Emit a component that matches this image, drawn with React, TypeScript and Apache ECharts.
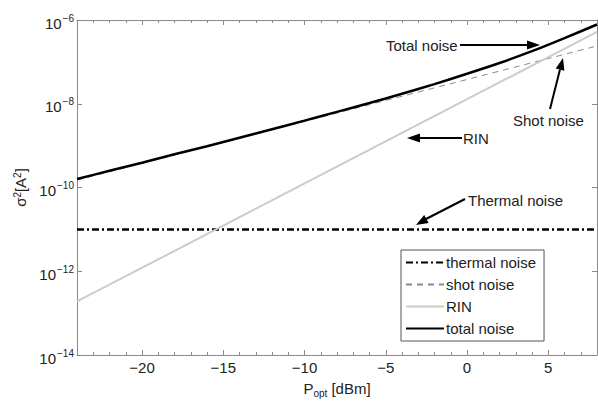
import React, { useEffect, useRef } from "react";
import * as echarts from "echarts";

// Optical power axis (dBm) and noise variances (A^2)
const powerDbm = [-24, -22, -20, -18, -16, -14, -12, -10, -8, -6, -4, -2, 0, 2, 4, 6, 8];
const totalNoise = [
  1.6e-10, 2.5e-10, 3.9e-10, 6.2e-10, 9.7e-10, 1.54e-9, 2.46e-9, 3.95e-9, 6.4e-9,
  1.04e-8, 1.73e-8, 2.95e-8, 5.2e-8, 9.4e-8, 1.8e-7, 3.7e-7, 7.8e-7,
];
const endPowers = [-24, 8];
const thermalNoise = [1e-11, 1e-11];
const shotNoise = [1.5e-10, 2.4e-7];
const rinNoise = [1.9e-13, 5.2e-7];

const xMajorTicks = [-20, -15, -10, -5, 0, 5];
const xMinorTicks = [-24, -23, -22, -21, -19, -18, -17, -16, -14, -13, -12, -11, -9, -8, -7, -6, -4, -3, -2, -1, 1, 2, 3, 4, 6, 7, 8];
const yTicks = [1e-14, 1e-12, 1e-10, 1e-8, 1e-6];

const seriesNames = ["thermal noise", "shot noise", "RIN", "total noise"];

const FONT = "Liberation Sans, Arial, Helvetica, sans-serif";
const TXT = "#222";
const FRAME = "#8a8a8a";

export default function App() {
  const ref = useRef<HTMLDivElement>(null);
  useEffect(() => {
    if (!ref.current) return;
    const chart = echarts.init(ref.current, null, { renderer: "svg" });
    const pair = (xs: number[], ys: number[]) => xs.map((x, i) => [x, ys[i]]);
    const xBase = {
      type: "value",
      min: -24,
      max: 8,
      splitLine: { show: false },
    };
    const yFmt = (v: number) => {
      const e = Math.round(Math.log10(v));
      return `{b|10}{s|${e < 0 ? "\u2212" + Math.abs(e) : e}}`;
    };
    const yRich = {
      b: { fontSize: 15, fontFamily: FONT, color: TXT, padding: [6, 0, 0, 0] },
      s: { fontSize: 10, fontFamily: FONT, color: TXT, padding: [0, 0, 4, 1] },
    };
    const yBase = {
      type: "log",
      logBase: 10,
      min: 1e-14,
      max: 1e-6,
      interval: 2,
      splitLine: { show: false },
      minorTick: { show: false },
    };
    const option: any = {
      animation: false,
      backgroundColor: "#fff",
      textStyle: { fontFamily: FONT },
      grid: { left: 77, right: 1, top: 20, bottom: 42, containLabel: false },
      xAxis: [
        {
          ...xBase,
          position: "bottom",
          name: "P{sub|opt} [dBm]",
          nameLocation: "middle",
          nameGap: 24,
          nameTextStyle: {
            fontSize: 15,
            color: TXT,
            fontFamily: FONT,
            rich: { sub: { fontSize: 10, color: TXT, fontFamily: FONT, padding: [9, 0, 0, 0] } },
          },
          axisLine: { show: true, onZero: false, lineStyle: { color: FRAME, width: 1 } },
          axisTick: { show: true, inside: true, length: 5, customValues: xMajorTicks, lineStyle: { color: FRAME } },
          axisLabel: { show: true, customValues: xMajorTicks, margin: 5, fontSize: 15, color: TXT, fontFamily: FONT, formatter: (v: number) => (v < 0 ? "\u2212" + Math.abs(v) : String(v)) },
        },
        {
          ...xBase,
          position: "bottom",
          axisLine: { show: false, onZero: false },
          axisTick: { show: true, inside: true, length: 3, customValues: xMinorTicks, lineStyle: { color: FRAME } },
          axisLabel: { show: false },
        },
        {
          ...xBase,
          position: "top",
          axisLine: { show: true, onZero: false, lineStyle: { color: FRAME, width: 1 } },
          axisTick: { show: true, inside: true, length: 5, customValues: xMajorTicks, lineStyle: { color: FRAME } },
          axisLabel: { show: false },
        },
        {
          ...xBase,
          position: "top",
          axisLine: { show: false, onZero: false },
          axisTick: { show: true, inside: true, length: 3, customValues: xMinorTicks, lineStyle: { color: FRAME } },
          axisLabel: { show: false },
        },
      ],
      yAxis: [
        {
          ...yBase,
          position: "left",
          name: "\u03c3{s|2}[A{s|2}]",
          nameLocation: "middle",
          nameRotate: 90,
          nameGap: 38,
          nameTextStyle: {
            fontSize: 15,
            color: TXT,
            fontFamily: FONT,
            rich: {
              s: { fontSize: 10, color: TXT, fontFamily: FONT, padding: [0, 0, 7, 0] },
            },
          },
          axisLine: { show: true, onZero: false, lineStyle: { color: FRAME, width: 1 } },
          axisTick: { show: true, inside: true, length: 5, customValues: yTicks, lineStyle: { color: FRAME } },
          axisLabel: { show: true, margin: 3, customValues: yTicks, formatter: yFmt, rich: yRich },
        },
        {
          ...yBase,
          position: "right",
          axisLine: { show: true, onZero: false, lineStyle: { color: FRAME, width: 1 } },
          axisTick: { show: true, inside: true, length: 5, customValues: yTicks, lineStyle: { color: FRAME } },
          axisLabel: { show: false },
        },
      ],
      legend: {
        data: seriesNames,
        orient: "vertical",
        left: 401,
        top: 250,
        padding: [5, 8, 5, 4],
        itemGap: 7,
        itemWidth: 38,
        itemHeight: 14,
        backgroundColor: "#fff",
        borderColor: "#555",
        borderWidth: 1,
        borderRadius: 0,
        itemStyle: { opacity: 0 },
        textStyle: { fontSize: 15, color: TXT, fontFamily: FONT, padding: [0, 0, 0, -3] },
      },
      series: [
        {
          name: seriesNames[0],
          type: "line",
          data: pair(endPowers, thermalNoise),
          symbol: "none",
          lineStyle: { color: "#000", width: 2.5, type: [7, 3, 2, 3] },
          itemStyle: { color: "#000" },
        },
        {
          name: seriesNames[1],
          type: "line",
          data: pair(endPowers, shotNoise),
          symbol: "none",
          lineStyle: { color: "#8a8a8a", width: 1, type: [6, 5] },
          itemStyle: { color: "#8a8a8a" },
        },
        {
          name: seriesNames[2],
          type: "line",
          data: pair(endPowers, rinNoise),
          symbol: "none",
          lineStyle: { color: "#cdccc5", width: 2 },
          itemStyle: { color: "#cdccc5" },
        },
        {
          name: seriesNames[3],
          type: "line",
          data: pair(powerDbm, totalNoise),
          symbol: "none",
          smooth: 0.3,
          lineStyle: { color: "#000", width: 2.5 },
          itemStyle: { color: "#000" },
        },
      ],
      graphic: [
        { type: "text", x: 386, y: 45, style: { text: "Total noise", fontSize: 15, fontFamily: FONT, fill: TXT, verticalAlign: "middle" } },
        { type: "line", shape: { x1: 460, y1: 45, x2: 530, y2: 45 }, style: { stroke: "#000", lineWidth: 2 } },
        { type: "polygon", shape: { points: [[540, 45], [527, 40.5], [527, 49.5]] }, style: { fill: "#000" } },

        { type: "text", x: 513, y: 120, style: { text: "Shot noise", fontSize: 15, fontFamily: FONT, fill: TXT, verticalAlign: "middle" } },
        { type: "line", shape: { x1: 550, y1: 109, x2: 560, y2: 69.6 }, style: { stroke: "#000", lineWidth: 2 } },
        { type: "polygon", shape: { points: [[563, 58], [564.4, 70.7], [555.7, 68.5]] }, style: { fill: "#000" } },

        { type: "text", x: 463, y: 138, style: { text: "RIN", fontSize: 15, fontFamily: FONT, fill: TXT, verticalAlign: "middle" } },
        { type: "line", shape: { x1: 462, y1: 138, x2: 417, y2: 138 }, style: { stroke: "#000", lineWidth: 2 } },
        { type: "polygon", shape: { points: [[407, 138], [420, 133.5], [420, 142.5]] }, style: { fill: "#000" } },

        { type: "text", x: 468, y: 200, style: { text: "Thermal noise", fontSize: 15, fontFamily: FONT, fill: TXT, verticalAlign: "middle" } },
        { type: "line", shape: { x1: 465, y1: 199, x2: 426, y2: 219 }, style: { stroke: "#000", lineWidth: 2 } },
        { type: "polygon", shape: { points: [[416, 225], [428.6, 222.9], [424.2, 215.1]] }, style: { fill: "#000" } },
      ],
    };
    chart.setOption(option);
    return () => chart.dispose();
  }, []);
  return (
    <div
      ref={ref}
      style={{ position: "absolute", left: 0, top: 0, width: 598, height: 403, background: "#fff" }}
    />
  );
}
